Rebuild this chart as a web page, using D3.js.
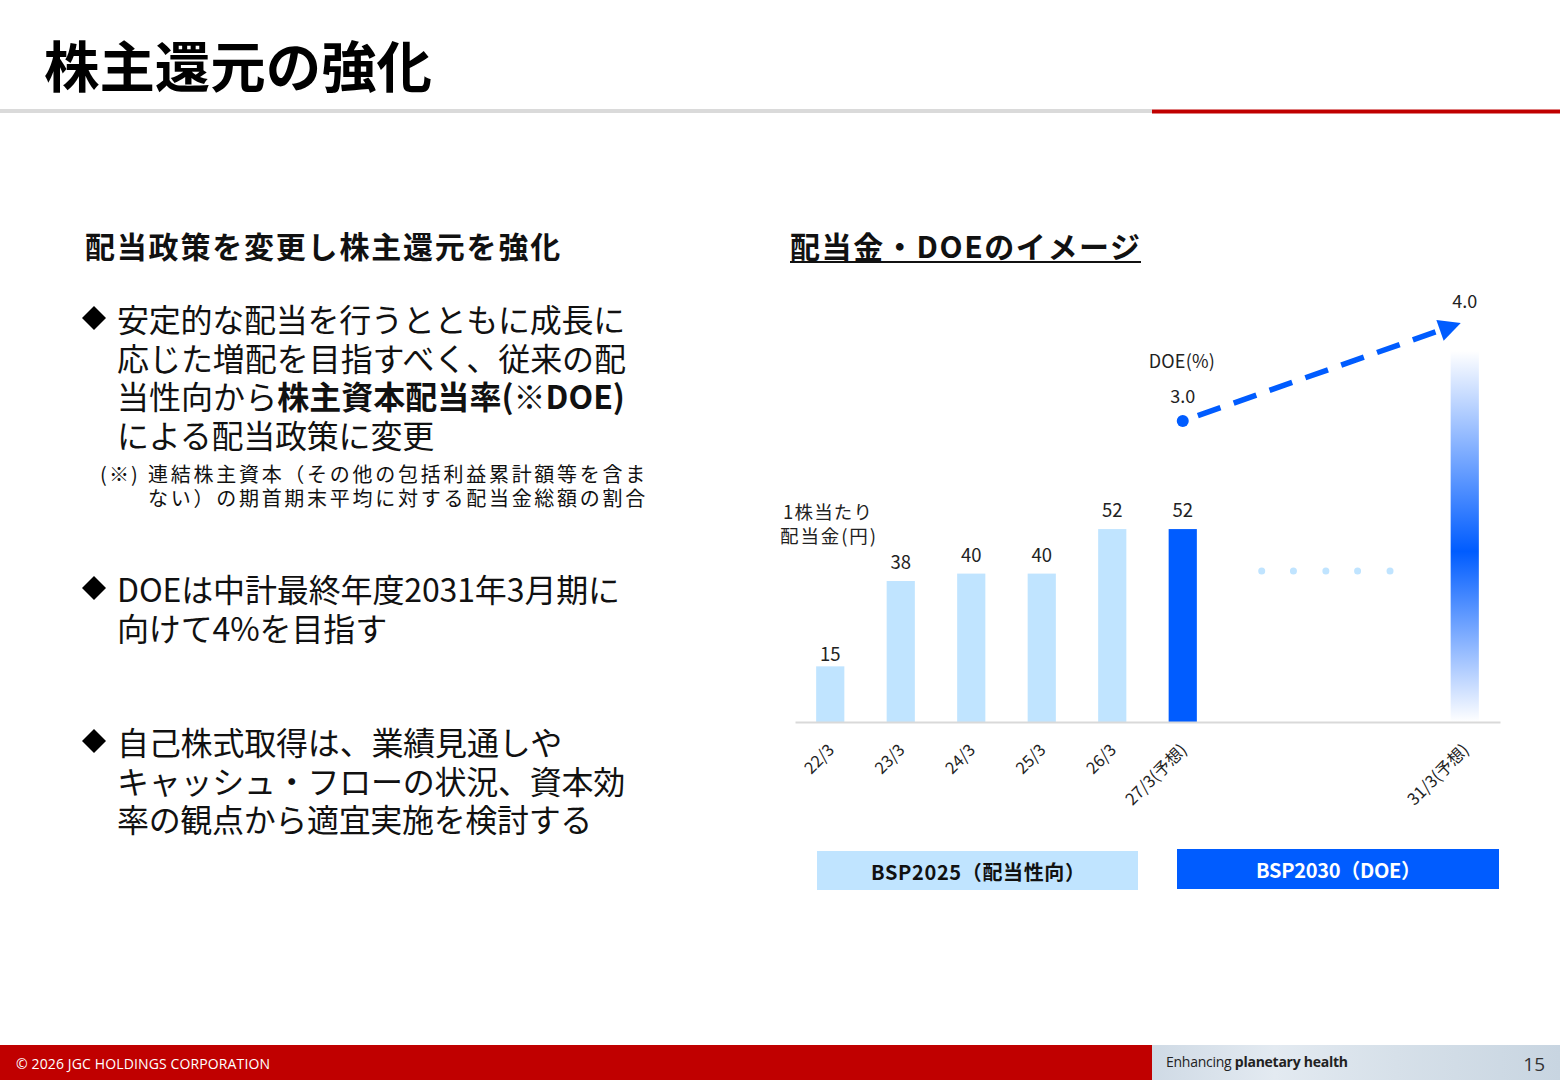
<!DOCTYPE html>
<html><head><meta charset="utf-8">
<script src="https://cdn.jsdelivr.net/npm/d3@7"></script>
<style>
body{margin:0;background:#fff;}
svg{display:block;font-family:"Noto Sans CJK JP","Noto Sans",sans-serif;}
</style></head><body>
<svg id="c" width="1560" height="1080"></svg>
<script>
// ---------- data ----------
const categories = ["22/3","23/3","24/3","25/3","26/3","27/3","28/3","29/3","30/3","31/3"];
const tickLabels = ["22/3","23/3","24/3","25/3","26/3","27/3(予想)","","","","31/3(予想)"];
const dividends = [15,38,40,40,52,52,null,null,null,null];
const barKinds = ["past","past","past","past","past","plan",null,null,null,null];
const forecastCat = "31/3";
const forecastBarValue = 100;
const doeCats = ["27/3","31/3"];
const doeValues = [3.0, 4.0];
const doeLabels = ["3.0","4.0"];
const ellipsisPos = [6.12, 6.57, 7.03, 7.48, 7.94];
const ellipsisValue = 40.7;
const legendLabels = ["BSP2025（配当性向）","BSP2030（DOE）"];

const svg = d3.select("#c");
const defs = svg.append("defs");

// ---------- header ----------
svg.append("text").attr("x",44).attr("y",63).attr("dominant-baseline","central")
  .attr("font-size",55).attr("font-weight",700).attr("fill","#000")
  .attr("textLength",388).attr("lengthAdjust","spacingAndGlyphs").text("株主還元の強化");
svg.append("rect").attr("x",0).attr("y",109).attr("width",1152).attr("height",4).attr("fill","#dadada");
svg.append("rect").attr("x",1152).attr("y",109.5).attr("width",408).attr("height",4).attr("fill","#c00000");

// ---------- left text ----------
function para(x0, y0, lh, size, lines){
  const t = svg.append("text").attr("y",y0).attr("font-size",size).attr("fill","#111")
    .attr("dominant-baseline","central");
  lines.forEach((ln,i)=>{
    const lt = t.append("tspan").attr("x", ln.x != null ? ln.x : x0)
      .attr("dy", i===0 ? 0 : (ln.dy != null ? ln.dy : lh)).attr("dominant-baseline","central");
    ln.parts.forEach(p=>lt.append("tspan").attr("font-weight", p[1]?700:400).text(p[0]));
    const n = ln.parts.map(p=>p[0]).join("").length;
    const w = lt.node().getComputedTextLength();
    lt.attr("letter-spacing", ((ln.w - w)/n).toFixed(3));
  });
  return t;
}
function diamond(cy){
  svg.append("path").attr("d",`M94,${cy-12} L106,${cy} L94,${cy+12} L82,${cy} Z`).attr("fill","#000");
}
para(85,245,0,30,[{parts:[["配当政策を変更し株主還元を強化",1]], w:477}]);

diamond(318);
para(117,318,38.5,32,[
  {parts:[["安定的な配当を行うとともに成長に"]], w:508},
  {parts:[["応じた増配を目指すべく、従来の配"]], w:509},
  {parts:[["当性向から"],["株主資本配当率(※DOE)",1]], w:508},
  {parts:[["による配当政策に変更"]], w:317}
]);
para(100,473,24,20,[
  {parts:[["(※)"]], w:40},
  {x:148, dy:0, parts:[["連結株主資本（その他の包括利益累計額等を含ま"]], w:500},
  {x:148, parts:[["ない）の期首期末平均に対する配当金総額の割合"]], w:500}
]);

diamond(588);
para(117,588,38.5,32,[
  {parts:[["DOEは中計最終年度2031年3月期に"]], w:503},
  {parts:[["向けて4%を目指す"]], w:270}
]);

diamond(741);
para(117,741,38.5,32,[
  {parts:[["自己株式取得は、業績見通しや"]], w:445},
  {parts:[["キャッシュ・フローの状況、資本効"]], w:508},
  {parts:[["率の観点から適宜実施を検討する"]], w:475}
]);

// ---------- chart ----------
svg.append("text").attr("x",790).attr("y",245).attr("dominant-baseline","central")
  .attr("font-size",30).attr("font-weight",700).attr("fill","#111")
  .attr("textLength",350).attr("lengthAdjust","spacing").text("配当金・DOEのイメージ");
svg.append("rect").attr("x",790).attr("y",261).attr("width",351).attr("height",2).attr("fill","#111");

const x = d3.scaleBand().domain(categories).range([795,1500]).paddingInner(0.6).paddingOuter(0.3);
const y = d3.scaleLinear().domain([0,100]).range([722,351]);
const yDoe = d3.scaleLinear().domain([3,4]).range([421,325]);
const cx = c => x(c) + x.bandwidth()/2;
const xIdx = d3.scaleLinear().domain([0, categories.length-1]).range([cx(categories[0]), cx(categories[categories.length-1])]);

const colors = {past:"#c0e4ff", plan:"#005cff"};

// gradient forecast bar
const g = defs.append("linearGradient").attr("id","fg").attr("x1",0).attr("y1",0).attr("x2",0).attr("y2",1);
g.append("stop").attr("offset","0%").attr("stop-color","#ffffff");
g.append("stop").attr("offset","54%").attr("stop-color","#005cff");
g.append("stop").attr("offset","100%").attr("stop-color","#ffffff");
svg.append("rect").attr("x",x(forecastCat)).attr("y",y(forecastBarValue))
  .attr("width",x.bandwidth()).attr("height",y(0)-y(forecastBarValue)).attr("fill","url(#fg)");

// bars
const barData = categories.map((c,i)=>({c, v:dividends[i], k:barKinds[i], i})).filter(d=>d.v!=null);
svg.selectAll("rect.bar").data(barData).enter().append("rect").attr("class","bar")
  .attr("x",d=>x(d.c)).attr("y",d=>y(d.v)).attr("width",x.bandwidth())
  .attr("height",d=>y(0)-y(d.v)).attr("fill",d=>colors[d.k]);
svg.selectAll("text.vl").data(barData).enter().append("text").attr("class","vl")
  .attr("x",d=>cx(d.c)).attr("y",d=>y(d.v)-(d.i===0?13:20)).attr("text-anchor","middle")
  .attr("dominant-baseline","central").attr("font-size",18.5).attr("fill","#222").text(d=>d.v);

// axis
const axis = d3.axisBottom(x).tickSize(0).tickFormat((d,i)=>tickLabels[i]);
const ax = svg.append("g").attr("transform","translate(0,722)").call(axis);
ax.select(".domain").attr("stroke","#d9d9d9").attr("stroke-width",2);
ax.selectAll(".tick text").attr("font-size",16.5).attr("fill","#222")
  .attr("font-family",'"Noto Sans CJK JP",sans-serif')
  .attr("text-anchor","end").attr("dy","0.35em")
  .attr("transform","translate(1,25) rotate(-45)").attr("y",0).attr("x",0);

// axis title
svg.append("text").attr("x",783).attr("y",511).attr("dominant-baseline","central")
  .attr("font-size",18.5).attr("fill","#222").attr("textLength",89).attr("lengthAdjust","spacing").text("1株当たり");
svg.append("text").attr("x",780).attr("y",535).attr("dominant-baseline","central")
  .attr("font-size",18.5).attr("fill","#222").attr("textLength",96).attr("lengthAdjust","spacing").text("配当金(円)");

// ellipsis dots
svg.selectAll("circle.el").data(ellipsisPos).enter().append("circle").attr("class","el")
  .attr("cx",d=>xIdx(d)).attr("cy",y(ellipsisValue)).attr("r",3.5).attr("fill","#c0e4ff");

// DOE arrow
const p0 = [cx(doeCats[0]), yDoe(doeValues[0])];
const p1 = [cx(doeCats[1]) - 4, yDoe(doeValues[1]) - 2];
const dx = p1[0]-p0[0], dy = p1[1]-p0[1], L = Math.hypot(dx,dy), ux = dx/L, uy = dy/L;
const headLen = 22, headW = 11;
svg.append("line").attr("x1",p0[0]+ux*16).attr("y1",p0[1]+uy*16)
  .attr("x2",p1[0]-ux*(headLen-4)).attr("y2",p1[1]-uy*(headLen-4))
  .attr("stroke","#005cff").attr("stroke-width",5.5).attr("stroke-dasharray","24 14");
const bx = p1[0]-ux*headLen, by = p1[1]-uy*headLen;
svg.append("path").attr("d",`M${p1[0]},${p1[1]} L${bx-uy*headW},${by+ux*headW} L${bx+uy*headW},${by-ux*headW} Z`)
  .attr("fill","#005cff");
svg.append("circle").attr("cx",p0[0]).attr("cy",p0[1]).attr("r",6).attr("fill","#005cff");
svg.selectAll("text.doe").data(doeCats).enter().append("text").attr("class","doe")
  .attr("x",(d,i)=>cx(d)).attr("y",(d,i)=>yDoe(doeValues[i])-(i===0?26:25))
  .attr("text-anchor","middle").attr("dominant-baseline","central")
  .attr("font-size",18).attr("fill","#222").text((d,i)=>doeLabels[i]);
svg.append("text").attr("x",cx(doeCats[0])-1).attr("y",360).attr("text-anchor","middle")
  .attr("dominant-baseline","central").attr("font-size",18).attr("fill","#222")
  .attr("textLength",66).attr("lengthAdjust","spacing").text("DOE(%)");

// legend boxes
svg.append("rect").attr("x",817).attr("y",851).attr("width",321).attr("height",39).attr("fill","#c0e4ff");
svg.append("text").attr("x",871).attr("y",871).attr("dominant-baseline","central")
  .attr("font-size",20).attr("font-weight",700).attr("fill","#111")
  .attr("textLength",214).attr("lengthAdjust","spacing").text(legendLabels[0]);
svg.append("rect").attr("x",1177).attr("y",849).attr("width",322).attr("height",40).attr("fill","#005cff");
svg.append("text").attr("x",1256).attr("y",869).attr("dominant-baseline","central")
  .attr("font-size",20).attr("font-weight",700).attr("fill","#fff")
  .attr("textLength",165).attr("lengthAdjust","spacing").text(legendLabels[1]);

// ---------- footer ----------
svg.append("rect").attr("x",0).attr("y",1045).attr("width",1152).attr("height",35).attr("fill","#c00000");
const fg2 = defs.append("linearGradient").attr("id","ftr").attr("x1",0).attr("x2",1).attr("y1",0).attr("y2",0);
[["0%","#cfdae5"],["30%","#e3eaf1"],["60%","#d6e0e9"],["100%","#c8d5e1"]].forEach(s=>
  fg2.append("stop").attr("offset",s[0]).attr("stop-color",s[1]));
svg.append("rect").attr("x",1152).attr("y",1045).attr("width",408).attr("height",35).attr("fill","url(#ftr)");
svg.append("text").attr("x",16).attr("y",1063).attr("dominant-baseline","central")
  .attr("font-family",'"Open Sans",sans-serif').attr("font-size",14).attr("fill","#fff")
  .attr("textLength",254).attr("lengthAdjust","spacing").text("© 2026 JGC HOLDINGS CORPORATION");
const ft = svg.append("text").attr("x",1166).attr("y",1061).attr("dominant-baseline","central")
  .attr("font-family",'"Open Sans",sans-serif').attr("font-size",14).attr("fill","#222")
  .attr("textLength",182).attr("lengthAdjust","spacing");
ft.append("tspan").text("Enhancing ");
ft.append("tspan").attr("font-weight",700).text("planetary health");
svg.append("text").attr("x",1545).attr("y",1064).attr("text-anchor","end").attr("dominant-baseline","central")
  .attr("font-family",'"Open Sans",sans-serif').attr("font-size",19).attr("fill","#333").text("15");
</script>
</body></html>
